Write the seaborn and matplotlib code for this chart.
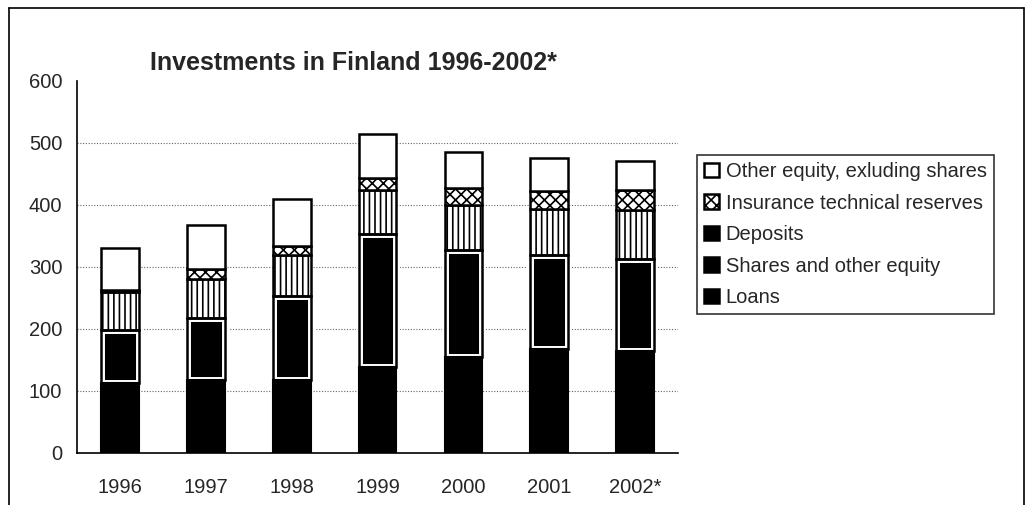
import matplotlib
matplotlib.use("Agg")
import matplotlib.pyplot as plt
import seaborn as sns
import pandas as pd
import numpy as np
from matplotlib.patches import Patch
from matplotlib.lines import Line2D

# ---- data ----
years = ["1996", "1997", "1998", "1999", "2000", "2001", "2002*"]
loans = [113, 118, 118, 138, 155, 167, 165]
shares = [85, 99, 135, 215, 172, 152, 148]
deposits = [62, 64, 66, 71, 72, 75, 79]
insurance = [2, 15, 15, 20, 28, 29, 32]
other = [68, 71, 76, 70, 58, 52, 47]
series_names = ["Loans", "Shares and other equity", "Deposits",
                "Insurance technical reserves", "Other equity, exluding shares"]
yticks = [0, 100, 200, 300, 400, 500, 600]
title = "Investments in Finland 1996-2002*"

sns.set_style("white")
plt.rcParams['font.family'] = ['Liberation Sans', 'DejaVu Sans']
plt.rcParams['hatch.linewidth'] = 1.2

fig = plt.figure(figsize=(10.26, 5.05), dpi=100)
ax = fig.add_axes([0.075, 0.103, 0.586, 0.737])

df = pd.DataFrame({
    "year": years,
    "loans": loans, "shares": shares, "deposits": deposits,
    "insurance": insurance, "other": other,
})
df["b_shares"] = df["loans"]
df["b_deposits"] = df["b_shares"] + df["shares"]
df["b_insurance"] = df["b_deposits"] + df["deposits"]
df["b_other"] = df["b_insurance"] + df["insurance"]

W = 0.44
common = dict(data=df, x="year", width=W, ax=ax, saturation=1, errorbar=None)

# loans
sns.barplot(y="loans", bottom=df["loans"] * 0, color="black",
            edgecolor="black", linewidth=1.5, zorder=3, **common)
# shares: black with white inner ring
sns.barplot(y="shares", bottom=df["b_shares"], color="black",
            edgecolor="white", linewidth=5, zorder=2, **common)
sns.barplot(y="shares", bottom=df["b_shares"], color="black", fill=False,
            linewidth=1.8, zorder=4, **common)
# deposits
sns.barplot(y="deposits", bottom=df["b_deposits"], color="white",
            edgecolor="black", linewidth=1.8, hatch="|||", zorder=3, **common)
# insurance
sns.barplot(y="insurance", bottom=df["b_insurance"], color="white",
            edgecolor="black", linewidth=1.8, hatch="xxx", zorder=3, **common)
# other
sns.barplot(y="other", bottom=df["b_other"], color="white",
            edgecolor="black", linewidth=1.8, zorder=3, **common)

ax.set_xlim(-0.5, len(years) - 0.5)
ax.set_ylim(0, 600)
ax.set_yticks(yticks)
ax.set_yticklabels([str(v) for v in yticks], fontsize=14.5)
ax.set_xlabel("")
ax.set_ylabel("")
ax.tick_params(axis="x", which="major", length=0, pad=18, labelsize=14.5)
ax.set_xticks(np.arange(-0.5, len(years)), minor=True)
ax.tick_params(axis="x", which="minor", length=5, width=1, direction="out", color="black")
ax.tick_params(axis="y", length=5, width=1, direction="out", color="black", pad=5.5)

for s in ["top", "right"]:
    ax.spines[s].set_visible(False)
for s in ["left", "bottom"]:
    ax.spines[s].set_color("black")
    ax.spines[s].set_linewidth(1.2)

ax.yaxis.grid(True, linestyle=(0, (1, 1.5)), color="#666666", linewidth=0.8, zorder=0)
ax.set_axisbelow(True)
gl = ax.yaxis.get_gridlines()
gl[-1].set_visible(False)
gl[0].set_visible(False)

fig.text(353 / 1026, 1 - 63 / 505, title, ha="center", va="center",
         fontsize=18, fontweight="bold")

handles = [
    Patch(facecolor="white", edgecolor="black", linewidth=1.8, label=series_names[4]),
    Patch(facecolor="white", edgecolor="black", linewidth=1.8, hatch="xxx", label=series_names[3]),
    Patch(facecolor="black", edgecolor="black", linewidth=1.8, label=series_names[2]),
    Patch(facecolor="black", edgecolor="black", linewidth=1.8, label=series_names[1]),
    Patch(facecolor="black", edgecolor="black", linewidth=1.8, label=series_names[0]),
]
leg = fig.legend(handles=handles, loc="upper left", bbox_to_anchor=(697 / 1026, 1 - 155 / 505),
                 frameon=True, fancybox=False, edgecolor="black", fontsize=14.5,
                 handlelength=0.75, handleheight=0.75, handletextpad=0.33,
                 labelspacing=0.62, borderpad=0.35, borderaxespad=0)
leg.get_frame().set_linewidth(1.2)

# outer chart-area border (left, top, right)
for xs, ys in [([9 / 1026, 9 / 1026], [0, 1 - 8 / 505]),
               ([9 / 1026, 1024 / 1026], [1 - 8 / 505, 1 - 8 / 505]),
               ([1024 / 1026, 1024 / 1026], [1 - 8 / 505, 0])]:
    fig.add_artist(Line2D(xs, ys, color="black", linewidth=1.2, transform=fig.transFigure))

fig.savefig("out.png", dpi=100)
